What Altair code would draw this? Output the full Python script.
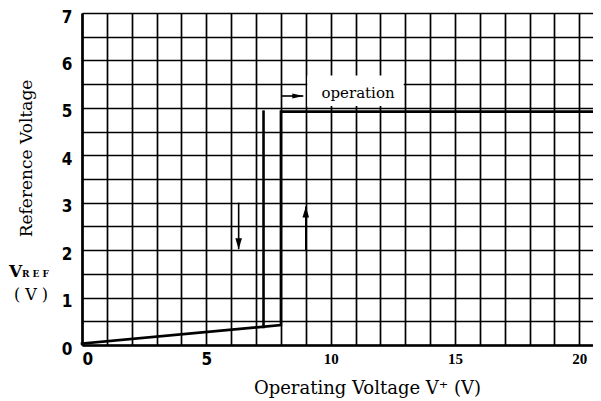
import altair as alt
import pandas as pd

# ---- axis grid / tick values ----
X_GRID = list(range(0, 21))
Y_GRID = [v / 2 for v in range(0, 15)]
X_MAX = 20.55
Y_MAX = 7

# ---- characteristic curve ----
RISE_X = [0.0, 8.0, 8.0, 20.55]
RISE_Y = [0.03, 0.42, 4.92, 4.92]
FALL_X = [7.3, 7.3]
FALL_Y = [4.92, 0.38]

# ---- arrows ----
ARROW_X = [6.3, 9.0, 8.0]
ARROW_Y = [3.0, 2.0, 5.25]
ARROW_X2 = [6.3, 9.0, 8.9]
ARROW_Y2 = [2.02, 2.92, 5.25]
ARROW_DIR = ["down", "up", "right"]

# ---- annotation ----
NOTE_TEXT = ["operation"]
NOTE_X = [11.1]
NOTE_Y = [5.2]
BOX_X = [9.06]
BOX_X2 = [12.94]
BOX_Y = [5.04]
BOX_Y2 = [5.68]

SERIF = "DejaVu Serif"
SANS_B = "Liberation Sans Narrow, DejaVu Sans Condensed, Liberation Sans, sans-serif"

curve_df = pd.DataFrame({
    "x": RISE_X + FALL_X,
    "y": RISE_Y + FALL_Y,
    "s": ["rise"] * len(RISE_X) + ["fall"] * len(FALL_X),
    "o": list(range(len(RISE_X))) + list(range(len(FALL_X))),
})

shapes = {
    "down": "M0,0L0.6,-2L-0.6,-2Z",
    "up": "M0,0L0.6,2L-0.6,2Z",
    "right": "M0,0L-2,0.45L-2,-0.45Z",
}
arrow_df = pd.DataFrame({
    "x": ARROW_X, "y": ARROW_Y, "x2": ARROW_X2, "y2": ARROW_Y2,
    "shape": [shapes[d] for d in ARROW_DIR],
})
box_df = pd.DataFrame({"x": BOX_X, "x2": BOX_X2, "y": BOX_Y, "y2": BOX_Y2})
note_df = pd.DataFrame({"t": NOTE_TEXT, "x": NOTE_X, "y": NOTE_Y})

xscale = alt.Scale(domain=[0, X_MAX], nice=False, zero=False)
yscale = alt.Scale(domain=[0, Y_MAX], nice=False, zero=False)

x_axis = alt.Axis(
    values=X_GRID,
    labelExpr="datum.value % 5 == 0 ? format(datum.value, 'd') : ''",
    grid=True, gridColor="black", gridWidth=1.7, gridOpacity=1,
    ticks=False, domainColor="black", domainWidth=2.6,
    labelOverlap=False, labelFlush=True, labelPadding=6,
    labelFont={"condition": {"test": "datum.value >= 10", "value": "Liberation Serif"}, "value": SANS_B},
    labelFontSize={"condition": {"test": "datum.value >= 10", "value": 15}, "value": 17},
    labelFontWeight="bold", labelColor="black",
    title="Operating Voltage V\u207a (V)",
    titleFont=SERIF, titleFontSize=18, titleFontWeight="normal", titleColor="black",
    titleX=285, titleY=48, titleAlign="center", titleBaseline="alphabetic",
)
y_axis = alt.Axis(
    values=Y_GRID,
    labelExpr="datum.value % 1 == 0 ? format(datum.value, 'd') : ''",
    grid=True, gridColor="black", gridWidth=1.7, gridOpacity=1,
    ticks=False, domainColor="black", domainWidth=2.6,
    labelOverlap=False, labelPadding=10, labelOffset=4,
    labelFont=SANS_B, labelFontSize=17, labelFontWeight="bold", labelColor="black",
    title="Reference Voltage",
    titleFont=SERIF, titleFontSize=17, titleFontWeight="normal", titleColor="black",
    titleAngle=270, titleX=-56, titleY=145, titleAlign="center", titleBaseline="middle",
)


def X(field):
    return alt.X(field, type="quantitative", scale=xscale, axis=x_axis)


def Y(field):
    return alt.Y(field, type="quantitative", scale=yscale, axis=y_axis)


curves = alt.Chart(curve_df).mark_line(color="black", strokeWidth=2.6, strokeCap="square").encode(
    x=X("x"), y=Y("y"), detail="s:N", order="o:Q",
)

box = alt.Chart(box_df).mark_rect(fill="white", stroke=None).encode(
    x=X("x"), x2="x2", y=Y("y"), y2="y2"
)

arrow_lines = alt.Chart(arrow_df).mark_rule(color="black", strokeWidth=1.6).encode(
    x=X("x"), x2="x2", y=Y("y"), y2="y2"
)
arrow_heads = alt.Chart(arrow_df).mark_point(filled=True, color="black", opacity=1, size=121).encode(
    x=X("x2"), y=Y("y2"), shape=alt.Shape("shape:N", scale=None)
)

note = alt.Chart(note_df).mark_text(
    font=SERIF, fontSize=15, color="black", align="center", baseline="alphabetic"
).encode(x=X("x"), y=Y("y"), text="t:N")

LEFT_TEXT = ["V", "R E F", "( V )"]
vref_v = alt.Chart(pd.DataFrame({"t": [LEFT_TEXT[0]]})).mark_text(
    font=SERIF, fontSize=17, fontWeight="bold", color="black", align="left", baseline="alphabetic"
).encode(x=alt.value(-73), y=alt.value(264), text="t:N")
vref_sub = alt.Chart(pd.DataFrame({"t": [LEFT_TEXT[1]]})).mark_text(
    font=SERIF, fontSize=9, fontWeight="bold", color="black", align="left", baseline="alphabetic"
).encode(x=alt.value(-60), y=alt.value(264), text="t:N")
vref_unit = alt.Chart(pd.DataFrame({"t": [LEFT_TEXT[2]]})).mark_text(
    font=SERIF, fontSize=16, fontWeight="normal", color="black", align="center", baseline="middle"
).encode(x=alt.value(-51), y=alt.value(282), text="t:N")

chart = alt.layer(
    curves, box, arrow_lines, arrow_heads, note, vref_v, vref_sub, vref_unit
).properties(
    width=511, height=332,
    autosize=alt.AutoSizeParams(type="none"),
    padding={"left": 74, "top": 5, "right": 0, "bottom": 55},
    background="white",
).configure_view(stroke=None)

chart.save("out.html", embed_options={"renderer": "svg", "actions": False})
